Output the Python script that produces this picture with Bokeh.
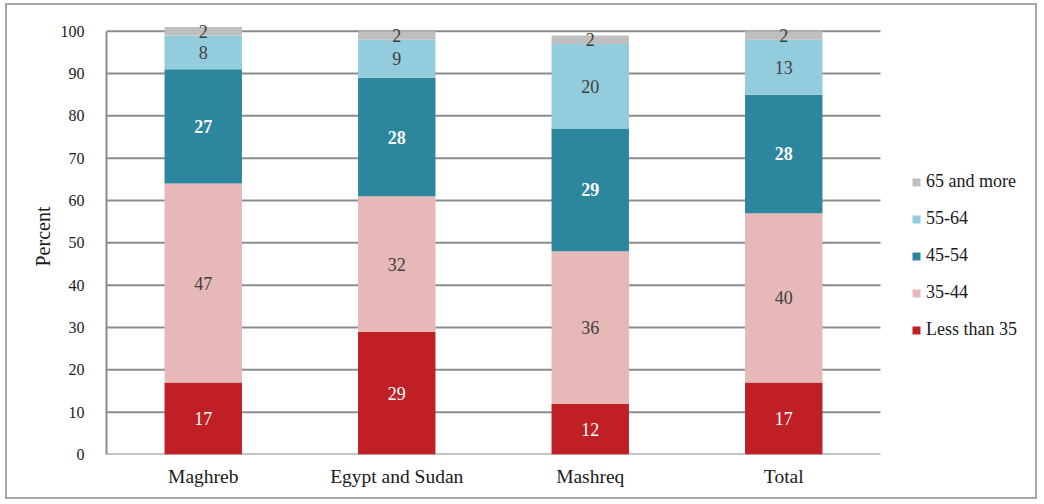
from bokeh.plotting import figure
from bokeh.models import ColumnDataSource, Range1d, Legend, LegendItem, LabelSet, FixedTicker
from bokeh.embed import file_html
from bokeh.resources import INLINE

# Age distribution (percent) by region
regions = ["Maghreb", "Egypt and Sudan", "Mashreq", "Total"]
age_groups = ["Less than 35", "35-44", "45-54", "55-64", "65 and more"]
less_than_35 = [17, 29, 12, 17]
age_35_44 = [47, 32, 36, 40]
age_45_54 = [27, 28, 29, 28]
age_55_64 = [8, 9, 20, 13]
age_65_more = [2, 2, 2, 2]
y_ticks = [0, 10, 20, 30, 40, 50, 60, 70, 80, 90, 100]

series = [less_than_35, age_35_44, age_45_54, age_55_64, age_65_more]
colors = ["#C01F26", "#E6B8B7", "#2C869E", "#93CDDD", "#BFBFBF"]
label_colors = ["#FFFFFF", "#404040", "#FFFFFF", "#404040", "#404040"]
label_styles = ["normal", "normal", "bold", "normal", "normal"]

FONT = "Liberation Serif"
GRID = "#8C8C8C"

# region slots sit at 0..n-1; the frame runs on past the last slot to hold the legend
xpos = list(range(len(regions)))
slot_px = 193.5
frame_w = 933
x_start = -0.5
x_end = x_start + frame_w / slot_px

p = figure(
    x_range=Range1d(x_start, x_end),
    y_range=Range1d(0, 103),
    width=1032, height=496,
    output_backend="svg", toolbar_location=None,
    min_border_left=99, min_border_top=13, min_border_bottom=47, min_border_right=0,
    margin=(3, 0, 0, 5),
)
p.styles = {"border": "2px solid #A6A6A6"}
p.outline_line_color = None
p.background_fill_color = "white"
p.border_fill_color = "white"
p.xgrid.grid_line_color = None
p.ygrid.grid_line_color = None

# horizontal gridlines spanning the region slots only
p.segment(x0=[x_start] * len(y_ticks), x1=[len(regions) - 0.5] * len(y_ticks),
          y0=y_ticks, y1=y_ticks, line_color=GRID, line_width=2)

# stacked segments
bottoms = [0] * len(regions)
renderers = []
for name, vals, col, lcol, lstyle in zip(age_groups, series, colors, label_colors, label_styles):
    tops = [b + v for b, v in zip(bottoms, vals)]
    mids = [(b + t) / 2 for b, t in zip(bottoms, tops)]
    src = ColumnDataSource(dict(x=xpos, bottom=bottoms, top=tops, mid=mids,
                                txt=[str(v) for v in vals]))
    r = p.vbar(x="x", bottom="bottom", top="top", width=0.4, source=src,
               fill_color=col, line_color=None)
    renderers.append((name, r))
    p.add_layout(LabelSet(x="x", y="mid", text="txt", source=src,
                          text_align="center", text_baseline="middle",
                          text_font=FONT, text_font_size="18px",
                          text_color=lcol, text_font_style=lstyle))
    bottoms = tops

# axes
p.yaxis.ticker = FixedTicker(ticks=y_ticks)
p.yaxis.bounds = (0, 100)
p.yaxis.axis_line_color = GRID
p.yaxis.axis_line_width = 2
p.yaxis.major_tick_line_color = None
p.yaxis.minor_tick_line_color = None
p.yaxis.major_label_standoff = 16
p.yaxis.major_label_text_font = FONT
p.yaxis.major_label_text_font_size = "16px"
p.yaxis.major_label_text_color = "#1A1A1A"
p.yaxis.axis_label = "Percent"
p.yaxis.axis_label_text_font = FONT
p.yaxis.axis_label_text_font_size = "20px"
p.yaxis.axis_label_text_font_style = "normal"
p.yaxis.axis_label_text_color = "#1A1A1A"
p.yaxis.axis_label_standoff = 4

p.xaxis.ticker = FixedTicker(ticks=xpos)
p.xaxis.major_label_overrides = {i: r for i, r in zip(xpos, regions)}
p.xaxis.axis_line_color = None
p.xaxis.major_tick_line_color = None
p.xaxis.minor_tick_line_color = None
p.xaxis.major_label_standoff = 5
p.xaxis.major_label_text_font = FONT
p.xaxis.major_label_text_font_size = "19.5px"
p.xaxis.major_label_text_color = "#1A1A1A"

# legend, listed from the oldest group down
items = [LegendItem(label=name, renderers=[r]) for name, r in reversed(renderers)]
legend = Legend(items=items, location=(805, 114), padding=0, margin=0,
                glyph_width=10, glyph_height=10, label_height=20, spacing=16,
                label_standoff=5, border_line_color=None, background_fill_alpha=0,
                label_text_font=FONT, label_text_font_size="18px",
                label_text_color="#1A1A1A")
p.add_layout(legend)

open("out.html", "w").write(file_html(p, INLINE))
